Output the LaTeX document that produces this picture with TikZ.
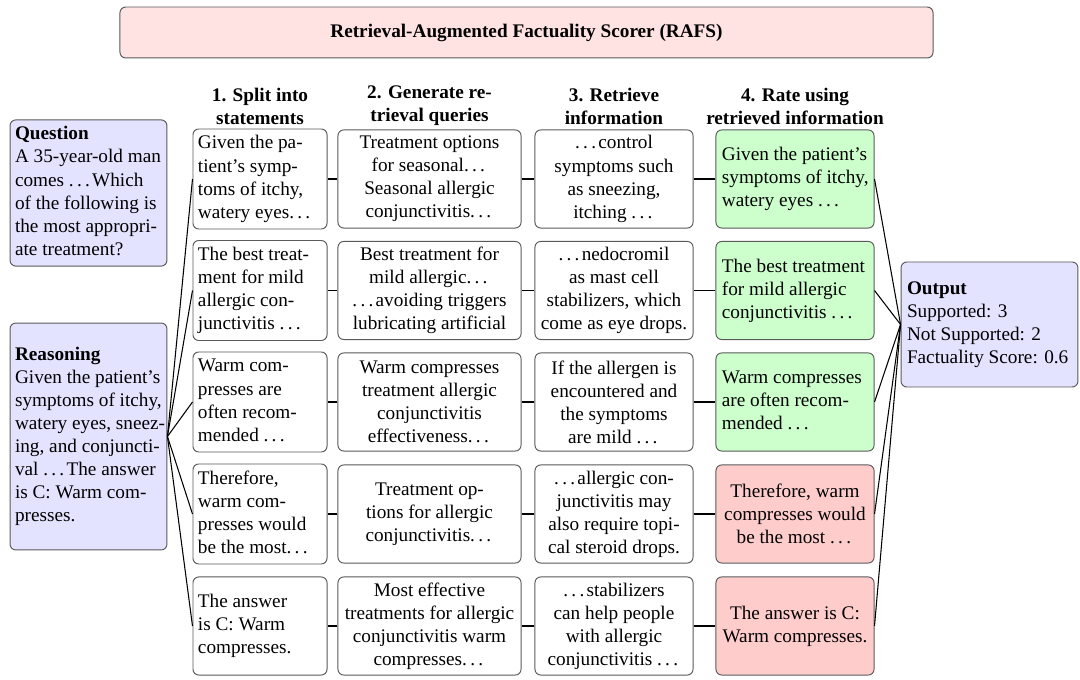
\documentclass[tikz,border=0pt]{standalone}
\usepackage{fontspec}
\setmainfont{Liberation Serif}
\definecolor{lav}{HTML}{E3E3FF}
\definecolor{grn}{HTML}{CCFFCC}
\definecolor{rd}{HTML}{FFCCCC}
\definecolor{pnk}{HTML}{FFE2E2}
\definecolor{bord}{HTML}{5A5A5A}
\newcommand\dd{.\kern.17em.\kern.17em.\kern.12em}
\newcommand\lbox[2]{\makebox[#1][l]{\begin{tabular}{@{}l@{}}#2\end{tabular}}}
\tikzset{
  box/.style={draw=bord, rounded corners=3pt, line width=0.5pt, inner sep=2pt,
    font=\fontsize{10}{12}\selectfont},
  cone/.style={box, fill=white, minimum width=69.7pt, minimum height=51pt},
  ctwo/.style={box, fill=white, minimum width=95.2pt, minimum height=51pt, align=center},
  cthree/.style={box, fill=white, minimum width=82.2pt, minimum height=51pt, align=center},
  cfour/.style={box, minimum width=82.2pt, minimum height=51pt},
  good/.style={cfour, fill=grn},
  bad/.style={cfour, fill=rd, align=center},
  side/.style={box, fill=lav, minimum width=81.6pt},
  head/.style={font=\fontsize{10}{12}\selectfont\bfseries, align=center, inner sep=0pt},
  link/.style={draw=black, line width=0.55pt}
}
\begin{document}
\begin{tikzpicture}[x=0.52pt,y=-0.52pt]
\useasboundingbox (0,0) rectangle (1080,680);

\node[box, fill=pnk, minimum width=422.8pt, minimum height=26.5pt, font=\fontsize{10}{12}\selectfont\bfseries] (title) at (526.5,32.5) {Retrieval-Augmented Factuality Scorer (RAFS)};

\node[head] (h1) at (260,106) {1. Split into\\statements};
\node[head] (h2) at (429.5,106) {2. Generate re-\\trieval queries};
\node[head] (h3) at (614,106) {3. Retrieve\\information};
\node[head] (h4) at (795,106) {4. Rate using\\retrieved information};

\node[side, minimum height=73.8pt] (q) at (88.5,193) {\lbox{76.4pt}{\textbf{Question}\\A 35-year-old man\\comes \dd Which\\of the following is\\the most appropri-\\ate treatment?}};
\node[side, minimum height=118pt] (r) at (88.5,436.5) {\lbox{76.4pt}{\textbf{Reasoning}\\Given the patient's\\symptoms of itchy,\\watery eyes, sneez-\\ing, and conjuncti-\\val \dd The answer\\is C: Warm com-\\presses.}};

% column 1
\node[cone] (a1) at (260,179) {\lbox{64.5pt}{Given the pa-\\tient's symp-\\toms of itchy,\\watery eyes\dd}};
\node[cone] (a2) at (260,290.5) {\lbox{64.5pt}{The best treat-\\ment for mild\\allergic con-\\junctivitis \dd}};
\node[cone] (a3) at (260,402) {\lbox{64.5pt}{Warm com-\\presses are\\often recom-\\mended \dd}};
\node[cone] (a4) at (260,514) {\lbox{64.5pt}{Therefore,\\warm com-\\presses would\\be the most\dd}};
\node[cone] (a5) at (260,626) {\lbox{64.5pt}{The answer\\is C: Warm\\compresses.}};

% column 2
\node[ctwo] (b1) at (429.5,179) {Treatment options\\for seasonal\dd\\Seasonal allergic\\conjunctivitis\dd};
\node[ctwo] (b2) at (429.5,290.5) {Best treatment for\\mild allergic\dd\\\dd avoiding triggers\\lubricating artificial};
\node[ctwo] (b3) at (429.5,402) {Warm compresses\\treatment allergic\\conjunctivitis\\effectiveness\dd};
\node[ctwo] (b4) at (429.5,514) {Treatment op-\\tions for allergic\\conjunctivitis\dd};
\node[ctwo] (b5) at (429.5,626) {Most effective\\treatments for allergic\\conjunctivitis warm\\compresses\dd};

% column 3
\node[cthree] (c1) at (614,179) {\dd control\\symptoms such\\as sneezing,\\itching \dd};
\node[cthree] (c2) at (614,290.5) {\dd nedocromil\\as mast cell\\stabilizers, which\\come as eye drops.};
\node[cthree] (c3) at (614,402) {If the allergen is\\encountered and\\the symptoms\\are mild \dd};
\node[cthree] (c4) at (614,514) {\dd allergic con-\\junctivitis may\\also require topi-\\cal steroid drops.};
\node[cthree] (c5) at (614,626) {\dd stabilizers\\can help people\\with allergic\\conjunctivitis \dd};

% column 4
\node[good] (d1) at (795,179) {\lbox{76pt}{Given the patient's\\symptoms of itchy,\\watery eyes \dd}};
\node[good] (d2) at (795,290.5) {\lbox{76pt}{The best treatment\\for mild allergic\\conjunctivitis \dd}};
\node[good] (d3) at (795,402) {\lbox{76pt}{Warm compresses\\are often recom-\\mended \dd}};
\node[bad] (d4) at (795,514) {Therefore, warm\\compresses would\\be the most \dd};
\node[bad] (d5) at (795,626) {The answer is C:\\Warm compresses.};

\node[side, minimum width=92pt, minimum height=65pt] (o) at (989.5,324.5) {\lbox{85.8pt}{\textbf{Output}\\Supported: 3\\Not Supported: 2\\Factuality Score: 0.6}};

\foreach \i in {1,...,5} {
  \draw[link] (r.east) -- (a\i.west);
  \draw[link] (a\i.east) -- (b\i.west);
  \draw[link] (b\i.east) -- (c\i.west);
  \draw[link] (c\i.east) -- (d\i.west);
  \draw[link] (d\i.east) -- (o.west);
}
\end{tikzpicture}
\end{document}
